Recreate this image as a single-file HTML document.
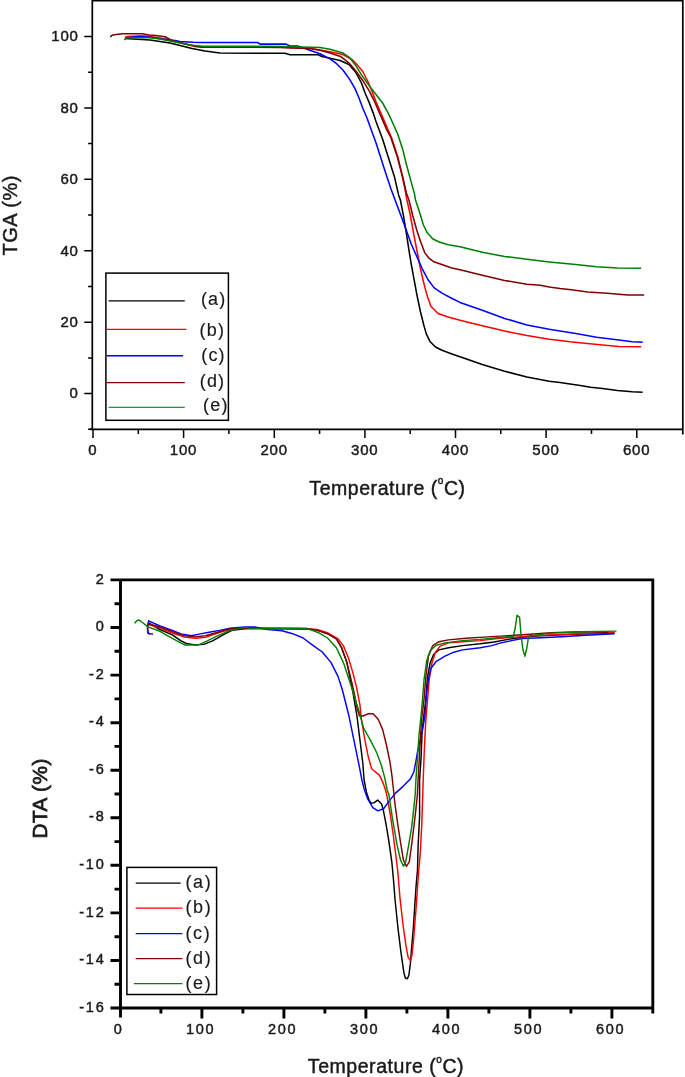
<!DOCTYPE html>
<html><head><meta charset="utf-8"><title>TGA / DTA</title>
<style>
html,body{margin:0;padding:0;background:#fff;}
body{width:685px;height:1077px;overflow:hidden;}
svg{display:block;}
text{font-family:"Liberation Sans",sans-serif;fill:#1a1a1a;stroke:#1a1a1a;stroke-width:0.45px;}
.t1{font-size:15px;letter-spacing:0.8px;}
.t2{font-size:14.5px;letter-spacing:1.8px;}
.ttl{font-size:19.5px;letter-spacing:0.55px;}
.lg{font-size:18px;letter-spacing:1.7px;stroke-width:0.15px;}
.cv{fill:none;stroke-linejoin:round;stroke-linecap:butt;}
</style></head><body>
<svg width="685" height="1077" viewBox="0 0 685 1077">
<rect width="685" height="1077" fill="#fff"/>

<g stroke="#000" stroke-width="1.7" fill="none">
<path d="M89.8,429.4 H682.8 M92.3,430.2 V0 M92.3,0.6 H683.65 M682.8,0 V434.4"/>
<path d="M93.0,429.4 v8.5 M183.6,429.4 v8.5 M274.3,429.4 v8.5 M364.9,429.4 v8.5 M455.5,429.4 v8.5 M546.1,429.4 v8.5 M636.8,429.4 v8.5 M138.3,429.4 v4.5 M228.9,429.4 v4.5 M319.6,429.4 v4.5 M410.2,429.4 v4.5 M500.8,429.4 v4.5 M591.5,429.4 v4.5 M92.3,393.6 h-8 M92.3,322.2 h-8 M92.3,250.8 h-8 M92.3,179.3 h-8 M92.3,107.9 h-8 M92.3,36.5 h-8 M92.3,429.3 h-4.2 M92.3,357.9 h-4.2 M92.3,286.5 h-4.2 M92.3,215.1 h-4.2 M92.3,143.6 h-4.2 M92.3,72.2 h-4.2 " stroke-width="1.5"/>
</g>
<text class="t1" x="92.9" y="455.3" text-anchor="middle">0</text>
<text class="t1" x="183.5" y="455.3" text-anchor="middle">100</text>
<text class="t1" x="274.2" y="455.3" text-anchor="middle">200</text>
<text class="t1" x="364.8" y="455.3" text-anchor="middle">300</text>
<text class="t1" x="455.4" y="455.3" text-anchor="middle">400</text>
<text class="t1" x="546.0" y="455.3" text-anchor="middle">500</text>
<text class="t1" x="636.7" y="455.3" text-anchor="middle">600</text>
<text class="t1" x="78.7" y="398.4" text-anchor="end">0</text>
<text class="t1" x="78.7" y="327.0" text-anchor="end">20</text>
<text class="t1" x="78.7" y="255.6" text-anchor="end">40</text>
<text class="t1" x="78.7" y="184.1" text-anchor="end">60</text>
<text class="t1" x="78.7" y="112.7" text-anchor="end">80</text>
<text class="t1" x="78.7" y="41.3" text-anchor="end">100</text>
<text class="ttl" x="387.5" y="494.5" text-anchor="middle">Temperature (<tspan font-size="10" dy="-10.5">o</tspan><tspan dy="10.5">C)</tspan></text>
<text class="ttl" transform="translate(16.6,215.3) rotate(-90)" text-anchor="middle" style="font-size:20px">TGA (%)</text>
<polyline class="cv" stroke="#000000" stroke-width="1.55" points="125.0,38.5 150.0,40.0 170.0,42.9 180.0,45.6 192.0,48.6 205.0,51.1 220.0,53.1 285.0,53.3 290.0,54.8 318.0,54.8 322.0,56.5 330.0,58.3 340.0,60.5 349.0,64.5 355.5,72.0 361.2,82.5 365.3,93.5 369.4,103.1 373.4,113.6 376.0,121.5 382.8,139.7 389.4,160.7 394.7,177.8 398.6,194.9 400.4,200.0 403.7,217.1 406.3,232.8 408.9,249.9 411.5,265.7 414.2,280.1 417.1,295.8 420.4,311.5 423.7,324.7 426.3,333.9 430.2,341.8 435.5,347.0 442.0,350.3 452.6,354.2 460.0,356.7 482.3,364.5 504.6,371.2 526.9,377.1 549.2,381.3 560.0,382.4 568.4,383.8 580.3,385.6 590.7,387.3 602.5,388.6 617.4,390.4 632.3,391.8 642.7,392.2"/>
<polyline class="cv" stroke="#ff0000" stroke-width="1.55" points="125.0,37.5 127.0,36.5 140.0,36.0 150.0,36.5 160.0,38.0 169.5,40.0 178.0,42.0 186.0,44.0 195.0,46.0 203.0,46.8 280.0,47.2 310.0,48.4 320.0,50.0 330.0,51.8 343.0,54.5 352.3,59.7 356.3,63.7 362.8,71.5 368.1,82.0 372.0,91.2 376.0,101.8 380.0,111.0 383.9,120.1 387.8,129.3 391.5,137.5 397.8,157.0 402.3,176.5 404.8,188.0 406.9,200.0 410.2,214.5 412.8,228.9 415.5,243.4 418.1,256.5 420.7,269.6 423.4,281.5 425.0,287.9 427.6,297.1 430.9,306.3 438.1,313.5 447.3,316.8 460.0,320.2 482.3,325.8 504.6,331.0 526.9,335.5 549.2,339.3 560.0,340.4 569.9,341.8 584.7,343.3 602.5,345.1 618.9,346.5 641.2,346.7"/>
<polyline class="cv" stroke="#0000ff" stroke-width="1.55" points="126.0,38.0 137.8,36.4 145.0,36.4 160.0,38.8 175.0,40.4 180.0,41.5 193.0,42.3 200.0,42.5 257.6,42.5 260.0,44.1 286.0,44.1 290.0,46.0 297.5,46.0 305.0,48.5 309.7,50.3 320.0,53.7 330.0,58.9 336.6,63.7 343.1,70.2 349.7,79.4 355.0,88.6 358.9,97.8 362.8,108.3 366.8,117.5 376.3,143.7 384.2,168.6 390.7,188.3 395.1,200.0 401.0,215.8 406.3,230.2 411.5,244.7 416.8,256.5 422.0,268.3 428.2,280.0 434.2,287.9 442.0,293.1 452.6,298.8 460.0,302.4 482.3,310.2 504.6,318.4 526.9,325.1 549.2,329.3 560.0,330.9 575.8,333.6 596.6,337.3 618.9,339.9 632.3,341.7 642.7,342.2"/>
<polyline class="cv" stroke="#800000" stroke-width="1.55" points="110.2,36.8 112.0,35.3 116.0,34.5 122.5,33.7 142.0,33.7 149.0,34.9 156.0,35.5 165.0,36.8 172.0,40.4 185.0,44.1 195.0,46.5 202.0,47.2 280.0,47.4 310.0,48.6 320.0,50.3 330.0,53.1 340.5,56.4 349.7,63.7 356.3,71.5 362.8,80.7 369.4,91.2 374.7,101.8 378.6,111.0 382.6,120.1 386.5,129.3 390.7,137.1 397.3,156.8 402.6,176.5 406.5,193.6 408.9,200.0 412.8,215.8 416.8,230.2 420.7,242.0 424.7,252.6 428.6,257.8 433.9,261.8 441.8,264.4 451.0,267.7 460.0,269.8 482.3,275.3 504.6,280.5 526.9,284.2 540.2,285.2 549.2,287.1 560.0,288.6 571.3,289.8 587.7,292.0 607.0,293.2 627.8,294.9 644.2,295.0"/>
<polyline class="cv" stroke="#008000" stroke-width="1.55" points="124.5,40.0 126.0,37.8 150.0,37.8 160.0,39.0 170.0,41.0 180.0,43.0 190.0,45.0 202.0,46.2 247.0,46.2 280.0,46.6 320.0,47.6 330.0,49.2 343.1,53.1 349.7,57.7 356.3,66.3 362.8,76.8 369.4,86.0 376.0,94.5 382.6,103.0 387.8,112.3 391.4,120.0 397.3,133.1 402.6,148.9 406.5,164.7 410.4,179.1 414.4,193.6 415.5,200.0 419.4,211.8 423.4,225.0 427.3,232.8 432.6,238.8 439.1,242.0 448.3,244.7 460.0,246.8 482.3,252.3 504.6,256.4 526.9,259.3 549.2,261.9 560.0,263.0 575.8,264.5 596.6,266.7 617.4,268.1 641.2,268.3"/>
<rect x="105.9" y="273.1" width="122.5" height="147.2" fill="#fff" stroke="#000" stroke-width="1.5"/>
<line x1="108.6" x2="184.8" y1="300.9" y2="300.9" stroke="#000" stroke-width="1.4"/>
<text class="lg" style="letter-spacing:1.2px" x="200.9" y="304.8">(a)</text>
<line x1="106.6" x2="186.3" y1="329.4" y2="329.4" stroke="#ff0000" stroke-width="1.4"/>
<text class="lg" style="letter-spacing:1.2px" x="199.6" y="336.2">(b)</text>
<line x1="106.6" x2="183" y1="355.7" y2="355.7" stroke="#0000ff" stroke-width="1.4"/>
<text class="lg" style="letter-spacing:1.2px" x="201.2" y="360.7">(c)</text>
<line x1="106.6" x2="184.8" y1="382.6" y2="382.6" stroke="#800000" stroke-width="1.4"/>
<text class="lg" style="letter-spacing:1.2px" x="199.7" y="387">(d)</text>
<line x1="108.6" x2="184.8" y1="407.4" y2="407.4" stroke="#129a4c" stroke-width="1.4"/>
<text class="lg" style="letter-spacing:1.2px" x="203.0" y="411.1">(e)</text>
<g stroke="#000" fill="none">
<path d="M110.5,579.9 H654.1999999999999 M110.5,1008.0 H654.1999999999999 M120.5,579.9 V1017.5 M652.8,579.9 V1013.5" stroke-width="2.9"/>
<path d="M201.9,1008.0 v10.5 M283.9,1008.0 v10.5 M365.9,1008.0 v10.5 M447.9,1008.0 v10.5 M529.9,1008.0 v10.5 M611.9,1008.0 v10.5 M160.9,1008.0 v5.5 M242.9,1008.0 v5.5 M324.9,1008.0 v5.5 M406.9,1008.0 v5.5 M488.9,1008.0 v5.5 M570.9,1008.0 v5.5 M120.5,960.5 h-10 M120.5,912.9 h-10 M120.5,865.3 h-10 M120.5,817.8 h-10 M120.5,770.2 h-10 M120.5,722.7 h-10 M120.5,675.1 h-10 M120.5,627.5 h-10 M120.5,984.2 h-6 M120.5,936.7 h-6 M120.5,889.1 h-6 M120.5,841.6 h-6 M120.5,794.0 h-6 M120.5,746.4 h-6 M120.5,698.9 h-6 M120.5,651.3 h-6 M120.5,603.8 h-6 " stroke-width="2.9"/>
</g>
<text class="t2" x="118.7" y="1034.3" text-anchor="middle">0</text>
<text class="t2" x="200.7" y="1034.3" text-anchor="middle">100</text>
<text class="t2" x="282.7" y="1034.3" text-anchor="middle">200</text>
<text class="t2" x="364.7" y="1034.3" text-anchor="middle">300</text>
<text class="t2" x="446.7" y="1034.3" text-anchor="middle">400</text>
<text class="t2" x="528.7" y="1034.3" text-anchor="middle">500</text>
<text class="t2" x="610.7" y="1034.3" text-anchor="middle">600</text>
<text class="t2" x="105.5" y="1011.6" text-anchor="end">-16</text>
<text class="t2" x="105.5" y="964.1" text-anchor="end">-14</text>
<text class="t2" x="105.5" y="916.5" text-anchor="end">-12</text>
<text class="t2" x="105.5" y="868.9" text-anchor="end">-10</text>
<text class="t2" x="105.5" y="821.4" text-anchor="end">-8</text>
<text class="t2" x="105.5" y="773.8" text-anchor="end">-6</text>
<text class="t2" x="105.5" y="726.3" text-anchor="end">-4</text>
<text class="t2" x="105.5" y="678.7" text-anchor="end">-2</text>
<text class="t2" x="105.5" y="631.1" text-anchor="end">0</text>
<text class="t2" x="105.5" y="583.6" text-anchor="end">2</text>
<text class="ttl" x="386" y="1073.2" text-anchor="middle">Temperature (<tspan font-size="10" dy="-10.5">o</tspan><tspan dy="10.5">C)</tspan></text>
<text class="ttl" transform="translate(47.1,798.3) rotate(-90)" text-anchor="middle" style="font-size:20.7px;stroke-width:0.75px">DTA (%)</text>
<polyline class="cv" stroke="#000000" stroke-width="1.45" points="147.8,622.5 160.0,629.5 172.3,634.8 181.1,640.9 186.3,643.5 195.1,644.9 203.8,644.4 212.6,640.9 223.1,634.8 231.9,630.4 245.0,628.7 260.0,628.6 306.6,628.9 317.1,630.1 327.6,633.7 336.4,638.9 341.6,647.7 346.9,662.6 352.5,690.0 357.0,716.3 359.9,739.6 362.8,763.0 364.1,780.0 366.3,791.7 369.2,800.4 371.4,803.4 374.3,802.6 377.7,800.1 381.6,804.1 383.1,809.2 386.0,823.8 388.9,841.3 391.8,861.8 393.5,880.0 395.0,899.2 398.0,928.4 400.9,951.8 403.8,972.2 405.3,978.0 407.4,978.8 408.9,975.1 410.4,963.4 411.8,945.9 413.3,928.4 414.7,906.5 416.2,884.6 417.5,870.0 418.1,845.7 419.6,816.5 419.6,780.0 421.2,755.7 422.0,733.8 423.4,719.2 425.8,700.0 427.5,677.1 430.1,663.1 433.7,654.3 438.9,649.9 448.5,647.7 462.6,645.6 480.1,643.8 494.1,642.0 508.1,639.4 518.6,637.7 530.0,636.4 561.3,634.7 614.5,632.7"/>
<polyline class="cv" stroke="#ff0000" stroke-width="1.45" points="150.0,633.9 148.7,633.9 147.8,630.0 147.8,624.3 160.0,627.8 172.3,633.0 184.6,637.1 195.1,638.3 205.6,637.4 212.6,634.8 223.1,631.3 233.6,628.7 245.0,627.8 300.0,628.4 317.0,629.5 327.6,632.8 338.1,638.9 343.4,645.9 348.6,658.2 353.0,673.1 356.5,687.1 359.9,704.6 361.4,719.2 364.3,736.7 368.0,755.7 371.6,768.8 379.6,775.4 383.3,783.4 385.5,790.0 386.7,794.6 390.4,815.0 393.3,835.5 395.5,853.0 397.7,870.5 400.1,899.2 403.1,925.5 406.0,945.9 408.2,957.6 410.4,960.5 411.8,956.1 413.3,943.0 414.7,925.5 416.2,906.5 417.7,884.6 418.8,870.0 420.3,853.0 421.8,823.8 423.2,780.0 424.2,752.8 425.6,723.6 427.1,704.6 427.5,700.0 429.3,678.8 431.9,663.1 435.4,652.6 439.8,646.4 448.5,642.9 462.6,641.7 480.1,640.6 497.6,638.5 515.1,637.1 530.0,635.9 561.3,634.5 614.5,632.5"/>
<polyline class="cv" stroke="#0000ff" stroke-width="1.45" points="153.0,634.0 150.4,633.9 147.8,633.0 147.4,627.8 148.7,620.8 160.0,626.0 172.3,630.4 181.1,633.9 191.6,635.7 200.3,633.9 209.1,632.2 219.6,630.4 230.1,628.1 245.0,626.9 254.9,627.0 268.0,629.6 282.0,630.7 292.6,633.7 303.1,638.0 313.6,645.9 322.3,652.0 331.1,662.6 338.1,676.6 342.4,690.0 349.0,716.3 354.1,741.1 359.2,765.9 361.9,780.0 364.1,788.8 367.7,799.0 372.8,807.7 378.0,810.9 383.8,808.5 389.6,800.4 395.5,793.1 402.8,786.6 410.3,779.1 413.9,771.8 416.1,760.1 417.6,751.3 422.0,732.3 424.9,716.3 426.0,700.0 427.0,690.0 428.4,678.8 431.0,668.3 436.3,661.3 445.0,656.1 453.8,652.2 462.6,649.9 480.1,647.7 490.6,645.9 501.1,642.9 511.6,640.6 522.1,638.5 540.9,637.8 561.3,636.8 585.8,635.2 614.5,633.7"/>
<polyline class="cv" stroke="#800000" stroke-width="1.45" points="148.0,624.0 160.0,626.9 172.3,631.6 184.6,635.7 195.1,636.9 205.6,635.7 216.1,632.7 230.1,628.7 245.0,627.8 260.0,628.4 306.6,628.5 317.1,630.1 327.6,633.7 336.4,638.9 341.6,647.7 346.9,662.6 352.1,683.6 355.0,697.0 357.0,708.0 359.5,716.0 362.8,716.0 368.0,713.8 373.1,713.8 378.2,719.2 382.6,729.4 386.2,744.0 389.9,761.5 392.0,776.1 393.5,790.0 394.7,801.9 397.7,823.8 400.6,842.8 403.5,860.3 406.4,866.4 409.3,861.8 411.5,845.7 413.7,828.2 415.9,809.2 417.4,794.6 418.1,780.0 419.5,755.0 420.7,733.0 422.0,716.0 424.0,700.0 425.8,677.1 428.4,656.1 432.8,645.6 438.9,641.7 448.5,639.9 466.1,638.2 483.6,637.1 504.6,635.9 518.6,635.0 530.0,634.2 551.1,632.7 581.8,631.7 608.3,632.3"/>
<polyline class="cv" stroke="#008000" stroke-width="1.45" points="134.6,623.4 136.5,621.0 138.7,619.9 142.5,622.5 147.8,626.9 160.0,631.3 172.3,638.3 184.6,644.9 198.6,644.9 207.3,640.9 217.9,635.7 230.1,630.4 245.0,627.4 250.0,628.4 306.6,628.4 318.8,632.8 327.6,638.0 336.4,647.7 343.4,662.6 348.6,678.3 351.5,687.0 354.5,697.0 359.2,711.9 363.6,728.0 370.9,741.1 376.7,752.8 381.1,764.5 384.7,777.6 387.2,790.0 388.9,794.6 392.6,819.4 396.9,844.2 400.6,860.3 403.5,866.1 405.7,861.8 408.6,845.7 411.5,828.2 413.7,809.2 415.2,794.6 415.9,780.0 417.6,755.7 419.1,733.8 421.0,716.0 422.5,700.0 424.0,680.0 426.6,661.3 430.1,650.8 436.3,645.2 445.0,642.9 462.6,640.6 480.1,639.4 497.6,637.7 513.3,636.3 515.2,628.0 517.0,615.3 519.6,617.4 521.0,634.7 522.9,649.5 524.9,656.2 526.8,648.0 528.3,638.5 530.0,635.9 551.1,633.1 581.8,631.7 616.5,631.1"/>
<rect x="126.9" y="867.4" width="89.7" height="127.1" fill="#fff" stroke="#000" stroke-width="1.5"/>
<line x1="135.7" x2="180.7" y1="883.1" y2="883.1" stroke="#000" stroke-width="1.3"/>
<text class="lg" x="185.4" y="888">(a)</text>
<line x1="135.7" x2="182.4" y1="908.2" y2="908.2" stroke="#ff0000" stroke-width="1.3"/>
<text class="lg" x="185.4" y="913.4">(b)</text>
<line x1="135.7" x2="182.4" y1="933.6" y2="933.6" stroke="#0000ff" stroke-width="1.3"/>
<text class="lg" x="185.4" y="938.5">(c)</text>
<line x1="135.7" x2="182.4" y1="958.6" y2="958.6" stroke="#800000" stroke-width="1.3"/>
<text class="lg" x="185.4" y="963.7">(d)</text>
<line x1="133.9" x2="182.4" y1="983.7" y2="983.7" stroke="#008000" stroke-width="1.3"/>
<text class="lg" x="185.4" y="988.8">(e)</text>
</svg></body></html>
